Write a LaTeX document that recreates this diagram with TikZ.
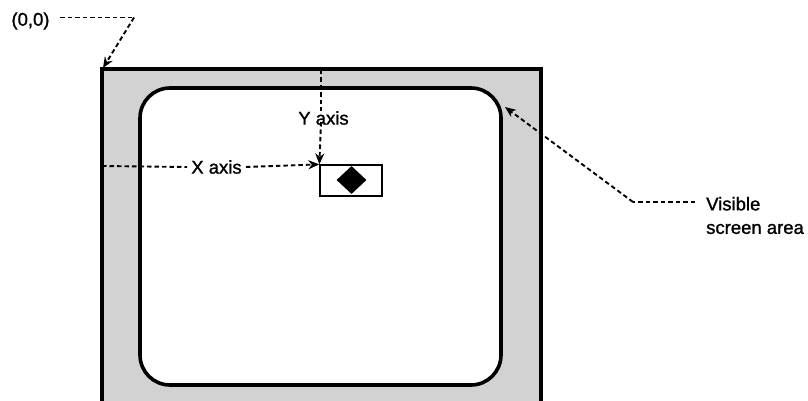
\documentclass[tikz,border=0pt]{standalone}
\usepackage{fontspec}
\setmainfont{Liberation Sans}
\newfontfamily\lblfont{Liberation Sans}[FakeBold=1.2]
\usetikzlibrary{arrows.meta,shapes.geometric}
\begin{document}
\begin{tikzpicture}[x=1pt,y=-1pt,
  dline/.style={line width=1.9pt, dash pattern=on 4.5pt off 3pt},
  arrowed/.style={-{Stealth[length=11pt,width=9pt]}},
  lbl/.style={font=\lblfont\fontsize{18.5}{23.5}\selectfont, inner sep=0pt},
  frame/.style={line width=3.6pt}
]
\useasboundingbox (0,0) rectangle (808,401);
\begin{scope}
\clip (0,0) rectangle (808,401);
\fill[gray!35] (102,69) rectangle (541,420);
\draw[frame] (102,420) -- (102,69) -- (541,69) -- (541,420);
\draw[frame, fill=white, rounded corners=30pt] (140,88) rectangle (501,385);
\end{scope}
% window and marker
\node[draw, line width=1.3pt, minimum width=62pt, minimum height=31pt, inner sep=0pt] (win) at (351,180.5) {};
\node[diamond, fill=black, minimum width=30pt, minimum height=28pt, inner sep=0pt] (mark) at (351.5,180) {};
% origin label
\node[lbl] (origin) at (30.5,21) {(0,0)};
\coordinate (obend) at (134,17.5);
\coordinate (corner) at (103,68);
\draw[dline] (60,17.5) -- (obend);
\draw[dline, arrowed] (obend) -- (corner);
% Y axis
\node[lbl] (ylab) at (323.5,118) {Y axis};
\coordinate (ytop) at (321,70);
\draw[dline] (ytop) -- (ytop |- ylab.north);
\draw[dline, arrowed] ([yshift=3pt]ytop |- ylab.south) -- (win.north west);
% X axis
\node[lbl] (xlab) at (216.5,167) {X axis};
\coordinate (xleft) at (102,166);
\draw[dline] (xleft) -- ([xshift=-4pt]xlab.west);
\draw[dline, arrowed] ([xshift=4pt]xlab.east) -- (win.north west);
% Visible screen area
\node[lbl, align=left, anchor=west] (vis) at (706,215.5) {Visible\\screen area};
\coordinate (vend) at (695,202);
\coordinate (vbend) at (633,202);
\coordinate (vtip) at (505,107);
\draw[dline] (vend) -- (vbend);
\draw[dline, arrowed] (vbend) -- (vtip);
\end{tikzpicture}
\end{document}
